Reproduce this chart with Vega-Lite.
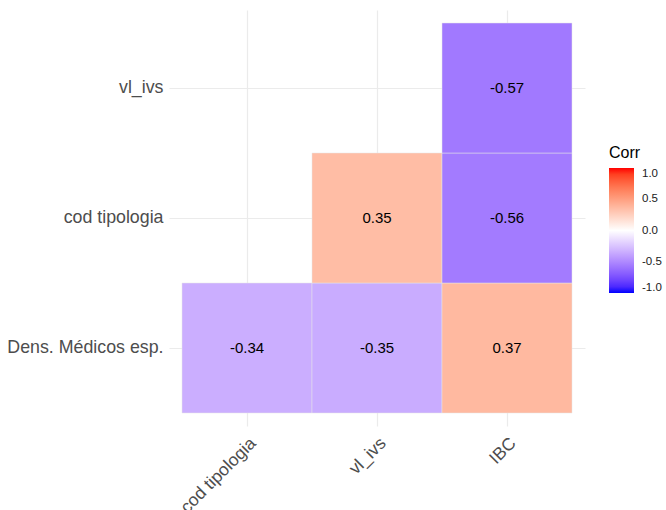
{
  "$schema": "https://vega.github.io/schema/vega-lite/v6.json",
  "width": 416,
  "height": 416,
  "autosize": "none",
  "padding": {"left": 169, "top": 10, "right": 81, "bottom": 84},
  "config": {"view": {"stroke": null}, "font": "Liberation Sans"},
  "data": {
    "values": [
      {"Var1": "cod tipologia", "Var2": "Dens. Médicos esp.", "value": -0.34},
      {"Var1": "vl_ivs", "Var2": "Dens. Médicos esp.", "value": -0.35},
      {"Var1": "IBC", "Var2": "Dens. Médicos esp.", "value": 0.37},
      {"Var1": "vl_ivs", "Var2": "cod tipologia", "value": 0.35},
      {"Var1": "IBC", "Var2": "cod tipologia", "value": -0.56},
      {"Var1": "IBC", "Var2": "vl_ivs", "value": -0.57}
    ]
  },
  "encoding": {
    "x": {
      "field": "Var1", "type": "nominal", "title": null,
      "sort": ["cod tipologia", "vl_ivs", "IBC"],
      "scale": {"paddingInner": 0, "paddingOuter": 0.1},
      "axis": {
        "grid": true, "gridColor": "#EBEBEB", "gridWidth": 1.2, "zindex": 0,
        "domain": false, "ticks": false,
        "labelAngle": -45, "labelAlign": "right", "labelBaseline": "top",
        "labelFontSize": 17.5, "labelColor": "#4D4D4D", "labelPadding": 8
      }
    },
    "y": {
      "field": "Var2", "type": "nominal", "title": null,
      "sort": ["vl_ivs", "cod tipologia", "Dens. Médicos esp."],
      "scale": {"paddingInner": 0, "paddingOuter": 0.1},
      "axis": {
        "grid": true, "gridColor": "#EBEBEB", "gridWidth": 1.2, "zindex": 0,
        "domain": false, "ticks": false,
        "labelFontSize": 17.8, "labelColor": "#4D4D4D", "labelPadding": 6
      }
    }
  },
  "layer": [
    {
      "mark": {"type": "rect", "stroke": "#e6e6e6", "strokeWidth": 0.5, "opacity": 1, "zindex": 1},
      "encoding": {
        "color": {
          "field": "value", "type": "quantitative",
          "scale": {"domain": [-1, 0, 1], "range": ["blue", "white", "red"], "interpolate": "lab"},
          "legend": {
            "title": "Corr", "orient": "none", "legendX": 440, "legendY": 135,
            "gradientLength": 125, "gradientThickness": 25, "gradientStrokeWidth": 0,
            "titleFontSize": 16, "titleFontWeight": "normal", "titleColor": "black", "titlePadding": 7,
            "labelFontSize": 11.5, "labelColor": "#1a1a1a", "labelOffset": 8,
            "values": [-1, -0.5, 0, 0.5, 1], "format": ".1f", "direction": "vertical",
            "labelExpr": "replace(datum.label, '−', '-')"
          }
        }
      }
    },
    {
      "mark": {"type": "text", "fontSize": 15, "color": "black", "zindex": 2},
      "encoding": {
        "text": {"field": "value", "type": "nominal"}
      }
    }
  ]
}
